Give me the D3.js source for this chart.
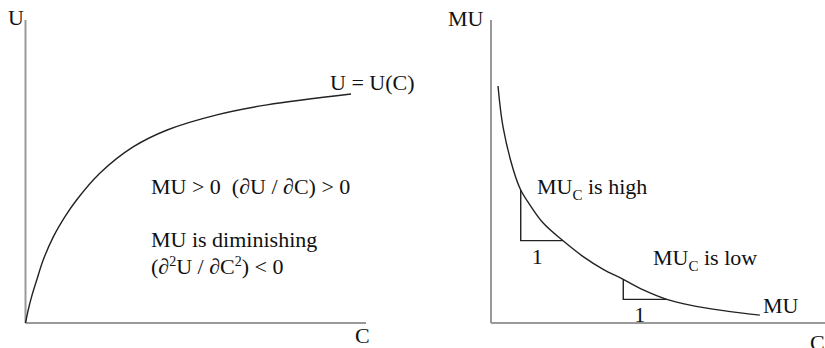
<!DOCTYPE html>
<html>
<head>
<meta charset="utf-8">
<script src="https://cdn.jsdelivr.net/npm/d3@7"></script>
<style>
  html, body { margin: 0; padding: 0; background: #fff; }
  svg { display: block; }
  svg text { font-family: "Liberation Serif", "DejaVu Serif", serif; fill: #111; }
</style>
</head>
<body>
<svg id="chart" width="825" height="348"></svg>
<script>
// Total utility U(C): concave, rising curve (consumption, utility)
const utilC = [0, 0.8, 1.8, 3.3, 5.2, 8.2, 11.6, 15, 21.9, 31.6, 41.6, 56.2, 70.9, 95.6];
const utilU = [0, 4.3, 8.7, 14.2, 20.8, 28.5, 35.1, 40.6, 49.5, 58.1, 63.7, 68.7, 72, 75.6];

// Marginal utility MU(C): falling, convex curve
const muC = [2.1, 3.6, 6.7, 8.9, 11.7, 15.7, 21.5, 27.6, 33.6, 39.6, 45.6, 52.6, 59.6, 69.6, 80.5];
const muU = [78.2, 64.7, 50.5, 43.9, 38.9, 32.9, 27.2, 21.9, 17.7, 14.4, 10.9, 7.8, 5.9, 4.1, 2.6];

// Slope triangles: index pairs of MU points spanning one unit of C
const slopeSteps = [[3, 6], [9, 11]];

const svg = d3.select("#chart");
const axisColor = "#999";
const curveColor = "#222";

// ---------- Left panel: U = U(C) ----------
const xL = d3.scaleLinear().domain([0, 100]).range([25.5, 366]);
const yL = d3.scaleLinear().domain([0, 100]).range([323, 20]);

const left = svg.append("g");
left.append("line")
  .attr("x1", xL(0)).attr("x2", xL(0)).attr("y1", yL(0)).attr("y2", yL(100))
  .attr("stroke", axisColor).attr("stroke-width", 2);
left.append("line")
  .attr("x1", xL(0)).attr("x2", xL(100)).attr("y1", yL(0)).attr("y2", yL(0))
  .attr("stroke", axisColor).attr("stroke-width", 2);

const utilLine = d3.line()
  .x(d => xL(d[0])).y(d => yL(d[1]))
  .curve(d3.curveCatmullRom.alpha(0.5));
left.append("path")
  .attr("d", utilLine(utilC.map((c, i) => [c, utilU[i]])))
  .attr("fill", "none").attr("stroke", curveColor).attr("stroke-width", 1.4);

left.append("text").attr("x", 8).attr("y", 25).attr("font-size", 22).text("U");
left.append("text").attr("x", 355).attr("y", 343).attr("font-size", 22).text("C");
left.append("text").attr("x", 330).attr("y", 90).attr("font-size", 22).text("U = U(C)");

left.append("text").attr("x", 151).attr("y", 194).attr("font-size", 22)
  .style("white-space", "pre").text("MU > 0  (\u2202U / \u2202C) > 0");
left.append("text").attr("x", 151).attr("y", 247).attr("font-size", 22)
  .text("MU is diminishing");

const l3 = left.append("text").attr("x", 151).attr("y", 274).attr("font-size", 22)
  .style("white-space", "pre");
l3.append("tspan").text("(\u2202");
l3.append("tspan").attr("font-size", 14).attr("dy", -8).text("2");
l3.append("tspan").attr("dy", 8).text("U / \u2202C");
l3.append("tspan").attr("font-size", 14).attr("dy", -8).text("2");
l3.append("tspan").attr("dy", 8).text(") < 0");

// ---------- Right panel: marginal utility ----------
const xR = d3.scaleLinear().domain([0, 100]).range([491, 825]);
const yR = d3.scaleLinear().domain([0, 100]).range([323, 20]);

const right = svg.append("g");
right.append("line")
  .attr("x1", xR(0)).attr("x2", xR(0)).attr("y1", yR(0)).attr("y2", yR(100))
  .attr("stroke", axisColor).attr("stroke-width", 2);
right.append("line")
  .attr("x1", xR(0)).attr("x2", xR(100)).attr("y1", yR(0)).attr("y2", yR(0))
  .attr("stroke", axisColor).attr("stroke-width", 2);

const muLine = d3.line()
  .x(d => xR(d[0])).y(d => yR(d[1]))
  .curve(d3.curveCatmullRom.alpha(0.5));
right.append("path")
  .attr("d", muLine(muC.map((c, i) => [c, muU[i]])))
  .attr("fill", "none").attr("stroke", curveColor).attr("stroke-width", 1.4);

// Rise-over-run triangles under the curve
slopeSteps.forEach(([a, b]) => {
  const p = [[muC[a], muU[a]], [muC[a], muU[b]], [muC[b], muU[b]]];
  right.append("path")
    .attr("d", d3.line().x(d => xR(d[0])).y(d => yR(d[1]))(p))
    .attr("fill", "none").attr("stroke", curveColor).attr("stroke-width", 1.4);
  right.append("text")
    .attr("x", xR(muC[a]) + 11).attr("y", yR(muU[b]) + 23)
    .attr("font-size", 22).text("1");
});

right.append("text").attr("x", 448).attr("y", 26).attr("font-size", 22).text("MU");
right.append("text").attr("x", 810).attr("y", 350).attr("font-size", 22).text("C");
right.append("text").attr("x", 763).attr("y", 313).attr("font-size", 22).text("MU");

function subLabel(x, y, rest) {
  const t = right.append("text").attr("x", x).attr("y", y).attr("font-size", 22)
    .style("white-space", "pre");
  t.append("tspan").text("MU");
  t.append("tspan").attr("font-size", 15).attr("dy", 6).text("C");
  t.append("tspan").attr("dy", -6).text(rest);
}
subLabel(537, 194, " is high");
subLabel(653, 265, " is low");
</script>
</body>
</html>
